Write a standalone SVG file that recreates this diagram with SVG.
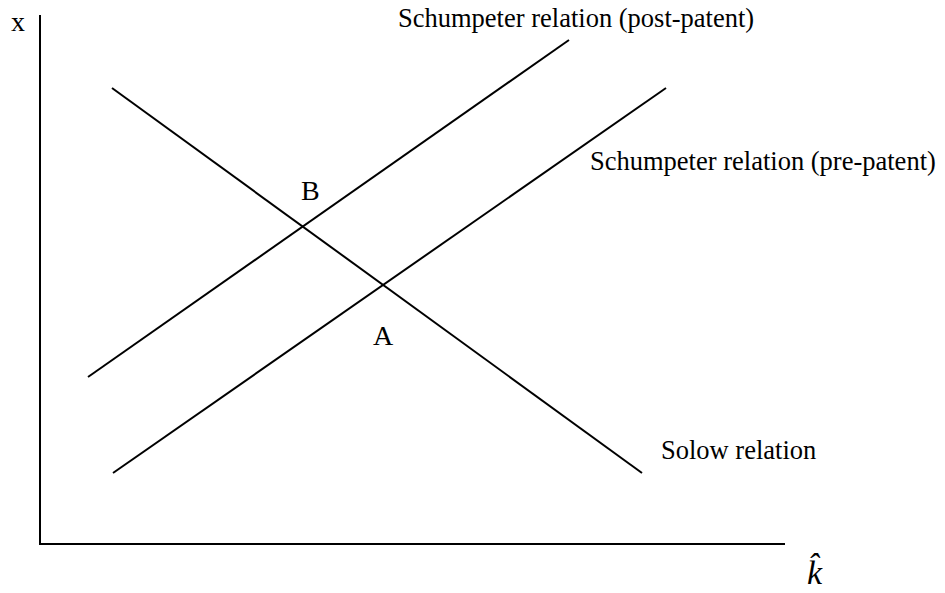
<svg xmlns="http://www.w3.org/2000/svg" width="945" height="593" viewBox="0 0 945 593">
<style>
.ln{stroke:#000;stroke-width:2;fill:none}
.t{font-family:"Liberation Serif","Times New Roman",serif;font-size:26.5px;fill:#000}
.big{font-size:28px}
.k{font-size:34px;font-style:italic}
</style>
<defs>
<clipPath id="kclip"><rect x="790" y="530" width="33" height="63"/></clipPath>
</defs>
<rect width="945" height="593" fill="#fff"/>
<g id="axes">
<line class="ln" x1="40" y1="15" x2="40" y2="545"/>
<line class="ln" x1="39" y1="544" x2="785" y2="544"/>
<text class="t big" x="11" y="31">x</text>
<text class="t k" x="807" y="584" clip-path="url(#kclip)">k̂</text>
</g>
<g id="connectors">
<line class="ln" x1="112" y1="88" x2="642" y2="473"/>
<line class="ln" x1="88" y1="377" x2="569" y2="40"/>
<line class="ln" x1="113" y1="473" x2="666" y2="88"/>
</g>
<g id="label-post"><text class="t" x="398" y="27">Schumpeter relation (post-patent)</text></g>
<g id="label-pre"><text class="t" x="590" y="170">Schumpeter relation (pre-patent)</text></g>
<g id="label-solow"><text class="t" x="661" y="459">Solow relation</text></g>
<g id="point-B"><text class="t big" x="301" y="200">B</text></g>
<g id="point-A"><text class="t big" x="373" y="345">A</text></g>
</svg>
